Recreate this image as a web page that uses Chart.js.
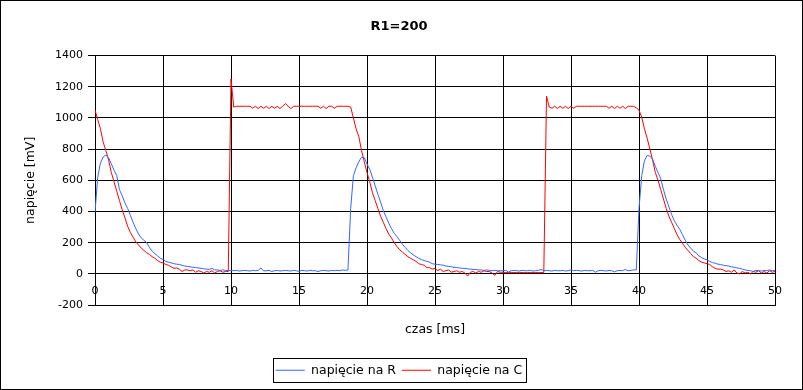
<!DOCTYPE html>
<html><head><meta charset="utf-8">
<script src="https://cdn.jsdelivr.net/npm/chart.js@4/dist/chart.umd.min.js"></script>
<style>html,body{margin:0;padding:0;background:#fff}#wrap{width:803px;height:390px}</style>
</head><body><div id="wrap"><canvas id="c" width="803" height="390"></canvas></div>
<script>
const tytul = 'R1=200';
const tytulX = 'czas [ms]';
const tytulY = 'napięcie [mV]';
const nazwaR = 'napięcie na R';
const nazwaC = 'napięcie na C';
const ticksX = [0, 5, 10, 15, 20, 25, 30, 35, 40, 45, 50];
const ticksY = [-200, 0, 200, 400, 600, 800, 1000, 1200, 1400];

const czas = [
 0,0.2,0.4,0.6,0.8,1,1.2,1.4,1.6,1.8,
 2,2.2,2.4,2.6,2.8,3,3.2,3.4,3.6,3.8,
 4,4.2,4.4,4.6,4.8,5,5.2,5.4,5.6,5.8,
 6,6.2,6.4,6.6,6.8,7,7.2,7.4,7.6,7.8,
 8,8.2,8.4,8.6,8.8,9,9.2,9.4,9.6,9.8,
 10,10.2,10.4,10.6,10.8,11,11.2,11.4,11.6,11.8,
 12,12.2,12.4,12.6,12.8,13,13.2,13.4,13.6,13.8,
 14,14.2,14.4,14.6,14.8,15,15.2,15.4,15.6,15.8,
 16,16.2,16.4,16.6,16.8,17,17.2,17.4,17.6,17.8,
 18,18.2,18.4,18.6,18.8,19,19.2,19.4,19.6,19.8,
 20,20.2,20.4,20.6,20.8,21,21.2,21.4,21.6,21.8,
 22,22.2,22.4,22.6,22.8,23,23.2,23.4,23.6,23.8,
 24,24.2,24.4,24.6,24.8,25,25.2,25.4,25.6,25.8,
 26,26.2,26.4,26.6,26.8,27,27.2,27.4,27.6,27.8,
 28,28.2,28.4,28.6,28.8,29,29.2,29.4,29.6,29.8,
 30,30.2,30.4,30.6,30.8,31,31.2,31.4,31.6,31.8,
 32,32.2,32.4,32.6,32.8,33,33.2,33.4,33.6,33.8,
 34,34.2,34.4,34.6,34.8,35,35.2,35.4,35.6,35.8,
 36,36.2,36.4,36.6,36.8,37,37.2,37.4,37.6,37.8,
 38,38.2,38.4,38.6,38.8,39,39.2,39.4,39.6,39.8,
 40,40.2,40.4,40.6,40.8,41,41.2,41.4,41.6,41.8,
 42,42.2,42.4,42.6,42.8,43,43.2,43.4,43.6,43.8,
 44,44.2,44.4,44.6,44.8,45,45.2,45.4,45.6,45.8,
 46,46.2,46.4,46.6,46.8,47,47.2,47.4,47.6,47.8,
 48,48.2,48.4,48.6,48.8,49,49.2,49.4,49.6,49.8,
 50
];

const napiecieR = [
 395,620,710,750,762,745,705,665,630,540,
 500,455,420,375,330,290,255,230,215,200,
 170,145,130,115,100,92,80,75,70,65,
 62,60,55,50,48,45,42,40,38,35,
 32,30,28,35,25,25,22,25,22,20,
 22,20,22,18,20,22,20,18,22,20,
 22,38,18,20,22,15,20,22,18,20,
 22,20,18,22,20,15,22,20,18,22,
 20,20,15,20,22,20,18,22,20,22,
 20,25,22,25,420,630,680,720,748,745,
 705,670,620,565,510,460,405,365,325,290,
 260,240,215,190,170,150,135,122,110,100,
 92,85,80,75,65,62,60,58,55,50,
 48,45,42,40,38,35,35,32,30,28,
 28,25,25,22,25,22,20,22,20,20,
 20,22,12,20,22,20,18,22,20,20,
 22,18,20,22,28,20,22,20,18,22,
 20,20,22,18,20,25,20,22,20,18,
 22,20,20,22,10,20,22,20,18,22,
 20,12,20,22,20,28,20,22,25,25,
 420,630,725,760,755,735,690,650,610,540,
 480,430,380,340,310,285,250,215,185,165,
 145,135,115,105,95,90,80,72,68,62,
 60,55,52,50,45,42,38,35,30,25,
 22,20,15,22,20,18,22,20,25,20,
 22
];

const napiecieC = [
 1050,990,930,845,790,730,650,590,530,470,
 410,360,305,265,235,205,185,165,150,135,
 125,110,100,85,75,70,60,55,45,35,
 38,30,15,25,25,20,25,10,20,15,
 5,15,10,20,5,15,20,10,15,15,
 1250,1070,1075,1075,1075,1075,1075,1075,1062,1075,
 1060,1075,1062,1075,1060,1075,1062,1075,1060,1075,
 1092,1075,1060,1075,1075,1075,1075,1075,1075,1075,
 1075,1075,1075,1062,1075,1060,1075,1075,1062,1075,
 1075,1075,1075,1075,1070,1000,930,880,790,720,
 650,590,520,470,420,370,330,290,255,230,
 200,175,155,140,125,110,100,90,80,65,
 60,55,40,40,30,35,20,30,15,20,
 25,10,15,20,10,15,5,-15,10,15,
 5,15,10,20,15,15,5,-10,15,10,
 10,8,8,8,8,8,8,8,8,8,
 8,8,8,8,8,8,1140,1070,1062,1075,
 1060,1075,1062,1075,1060,1075,1062,1075,1075,1075,
 1075,1075,1075,1075,1075,1075,1075,1075,1075,1062,
 1075,1060,1075,1062,1075,1060,1075,1075,1075,1065,
 1050,1005,930,870,800,730,650,600,540,480,
 420,370,330,290,250,220,195,170,150,130,
 110,100,85,75,70,65,60,45,35,30,
 30,25,15,20,10,25,5,0,15,5,
 10,0,15,10,20,5,15,5,20,10,
 15
];

const F = "'DejaVu Sans', sans-serif";

const ramka = {
  id: 'ramka',
  afterDraw(chart) {
    const ctx = chart.ctx;
    ctx.save();
    ctx.strokeStyle = '#000';
    ctx.lineWidth = 1;
    ctx.strokeRect(0.5, 0.5, chart.width - 1, chart.height - 1);
    const hb = chart.legend && chart.legend.legendHitBoxes;
    if (hb && hb.length) {
      const l = Math.min(...hb.map(h => h.left));
      const r = Math.max(...hb.map(h => h.left + h.width));
      const t = Math.min(...hb.map(h => h.top));
      const b = Math.max(...hb.map(h => h.top + h.height));
      ctx.strokeRect(Math.round(l - 3) + 0.5, Math.round(t - 6) + 0.5, Math.round(r - l + 7), Math.round(b - t + 11));
    }
    ctx.restore();
  }
};

new Chart(document.getElementById('c'), {
  type: 'line',
  data: {
    datasets: [
      { label: nazwaR, data: czas.map((t, i) => ({x: t, y: napiecieR[i]})),
        borderColor: '#3366ff', backgroundColor: '#3366ff', borderWidth: 1, pointRadius: 0, tension: 0, fill: false },
      { label: nazwaC, data: czas.map((t, i) => ({x: t, y: napiecieC[i]})),
        borderColor: '#ff0000', backgroundColor: '#ff0000', borderWidth: 1, pointRadius: 0, tension: 0, fill: false }
    ]
  },
  options: {
    responsive: false,
    animation: false,
    events: [],
    layout: { padding: { left: 23, right: 28, top: 0, bottom: 3.5 } },
    plugins: {
      title: { display: true, text: tytul, color: '#000', font: { family: F, size: 13, weight: 'bold' }, padding: { top: 19, bottom: 21 } },
      legend: { position: 'bottom',
        labels: { usePointStyle: true, pointStyle: 'line', pointStyleWidth: 29, color: '#000', font: { family: F, size: 12.5 }, padding: 6 } },
      tooltip: { enabled: false }
    },
    scales: {
      x: {
        type: 'linear', min: ticksX[0], max: ticksX[ticksX.length - 1],
        afterBuildTicks: (s) => { s.ticks = ticksX.map(v => ({value: v})); },
        ticks: { color: '#000', font: { family: F, size: 11 }, mirror: true, padding: 7.7, maxRotation: 0, autoSkip: false,
                 callback: (v) => String(v) },
        grid: { color: '#000', lineWidth: 1, drawTicks: false },
        border: { color: '#000', width: 1 },
        title: { display: true, text: tytulX, color: '#000', font: { family: F, size: 12.5 }, padding: { top: 0, bottom: 20.5 } },
        afterFit: (s) => { s.height = 53; }
      },
      y: {
        min: ticksY[0], max: ticksY[ticksY.length - 1],
        afterBuildTicks: (s) => { s.ticks = ticksY.map(v => ({value: v})); },
        ticks: { color: '#000', font: { family: F, size: 11 }, padding: 5, callback: (v) => String(v) },
        grid: { color: '#000', lineWidth: 1, tickLength: 7 },
        border: { color: '#000', width: 1 },
        title: { display: true, text: tytulY, color: '#000', font: { family: F, size: 12.5 }, padding: { top: 0, bottom: 0 } },
        afterFit: (s) => { s.width = 72; }
      }
    }
  },
  plugins: [ramka]
});
</script>
</body></html>
